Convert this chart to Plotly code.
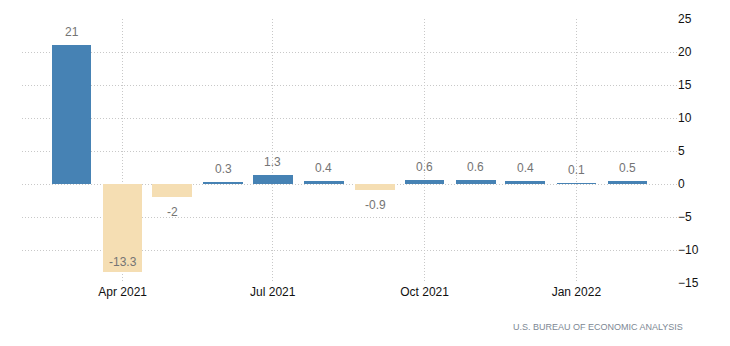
import plotly.graph_objects as go

# Monthly change, percent
months = ["2021-03-01", "2021-04-01", "2021-05-01", "2021-06-01", "2021-07-01",
          "2021-08-01", "2021-09-01", "2021-10-01", "2021-11-01", "2021-12-01",
          "2022-01-01", "2022-02-01"]
values = [21, -13.3, -2, 0.3, 1.3, 0.4, -0.9, 0.6, 0.6, 0.4, 0.1, 0.5]
labels = ["21", "-13.3", "-2", "0.3", "1.3", "0.4", "-0.9", "0.6", "0.6", "0.4", "0.1", "0.5"]

y_ticks = [-15, -10, -5, 0, 5, 10, 15, 20, 25]
x_ticks = ["2021-04-01", "2021-07-01", "2021-10-01", "2022-01-01"]
x_tick_text = ["Apr 2021", "Jul 2021", "Oct 2021", "Jan 2022"]

POS = "#4682B4"
NEG = "#F5DEB3"
FONT = "Liberation Sans, Arial, sans-serif"
LABEL_COLOR = "#747474"
DAY_MS = 86400000

fig = go.Figure()
fig.add_trace(go.Bar(
    x=months,
    y=values,
    marker=dict(color=[POS if v >= 0 else NEG for v in values], line=dict(width=0)),
    width=[24 * DAY_MS] * len(values),
    hoverinfo="x+y",
))

y_min, y_max = y_ticks[0], y_ticks[-1]
for m, v, t in zip(months, values, labels):
    if v >= 0:
        fig.add_annotation(x=m, y=v, text=t, showarrow=False, yanchor="bottom", yshift=4,
                           font=dict(family=FONT, size=12, color=LABEL_COLOR))
    elif v - 3 < y_min + 2:
        # too close to the bottom edge: place the label inside the bar end
        fig.add_annotation(x=m, y=v, text=t, showarrow=False, yanchor="bottom", yshift=1,
                           font=dict(family=FONT, size=12, color=LABEL_COLOR))
    else:
        fig.add_annotation(x=m, y=v, text=t, showarrow=False, yanchor="top", yshift=-6,
                           font=dict(family=FONT, size=12, color=LABEL_COLOR))

fig.add_annotation(xref="paper", yref="paper", x=1.012, y=-0.14, xanchor="right", yanchor="top",
                   text="U.S. BUREAU OF ECONOMIC ANALYSIS", showarrow=False,
                   font=dict(family=FONT, size=9, color="#7d8894"))

GRID_DASH = "1px,2px"

fig.update_layout(
    width=730, height=346,
    margin=dict(l=22, r=53, t=19, b=63),
    paper_bgcolor="white", plot_bgcolor="white",
    showlegend=False,
    bargap=0,
    font=dict(family=FONT, size=12, color="#111111"),
    xaxis=dict(
        type="date",
        range=["2021-01-30", "2022-03-03"],
        tickvals=x_ticks, ticktext=x_tick_text,
        showgrid=True, gridcolor="#c8c8c8", griddash=GRID_DASH, gridwidth=1,
        showline=False, zeroline=False, ticks="",
        tickfont=dict(family=FONT, size=12, color="#111111"),
    ),
    yaxis=dict(
        side="right",
        range=[y_min, y_max],
        tickvals=y_ticks,
        showgrid=True, gridcolor="#c8c8c8", griddash=GRID_DASH, gridwidth=1,
        zeroline=False, showline=False, ticks="",
        tickfont=dict(family=FONT, size=12, color="#111111"),
    ),
)

fig.write_html("out.html")
